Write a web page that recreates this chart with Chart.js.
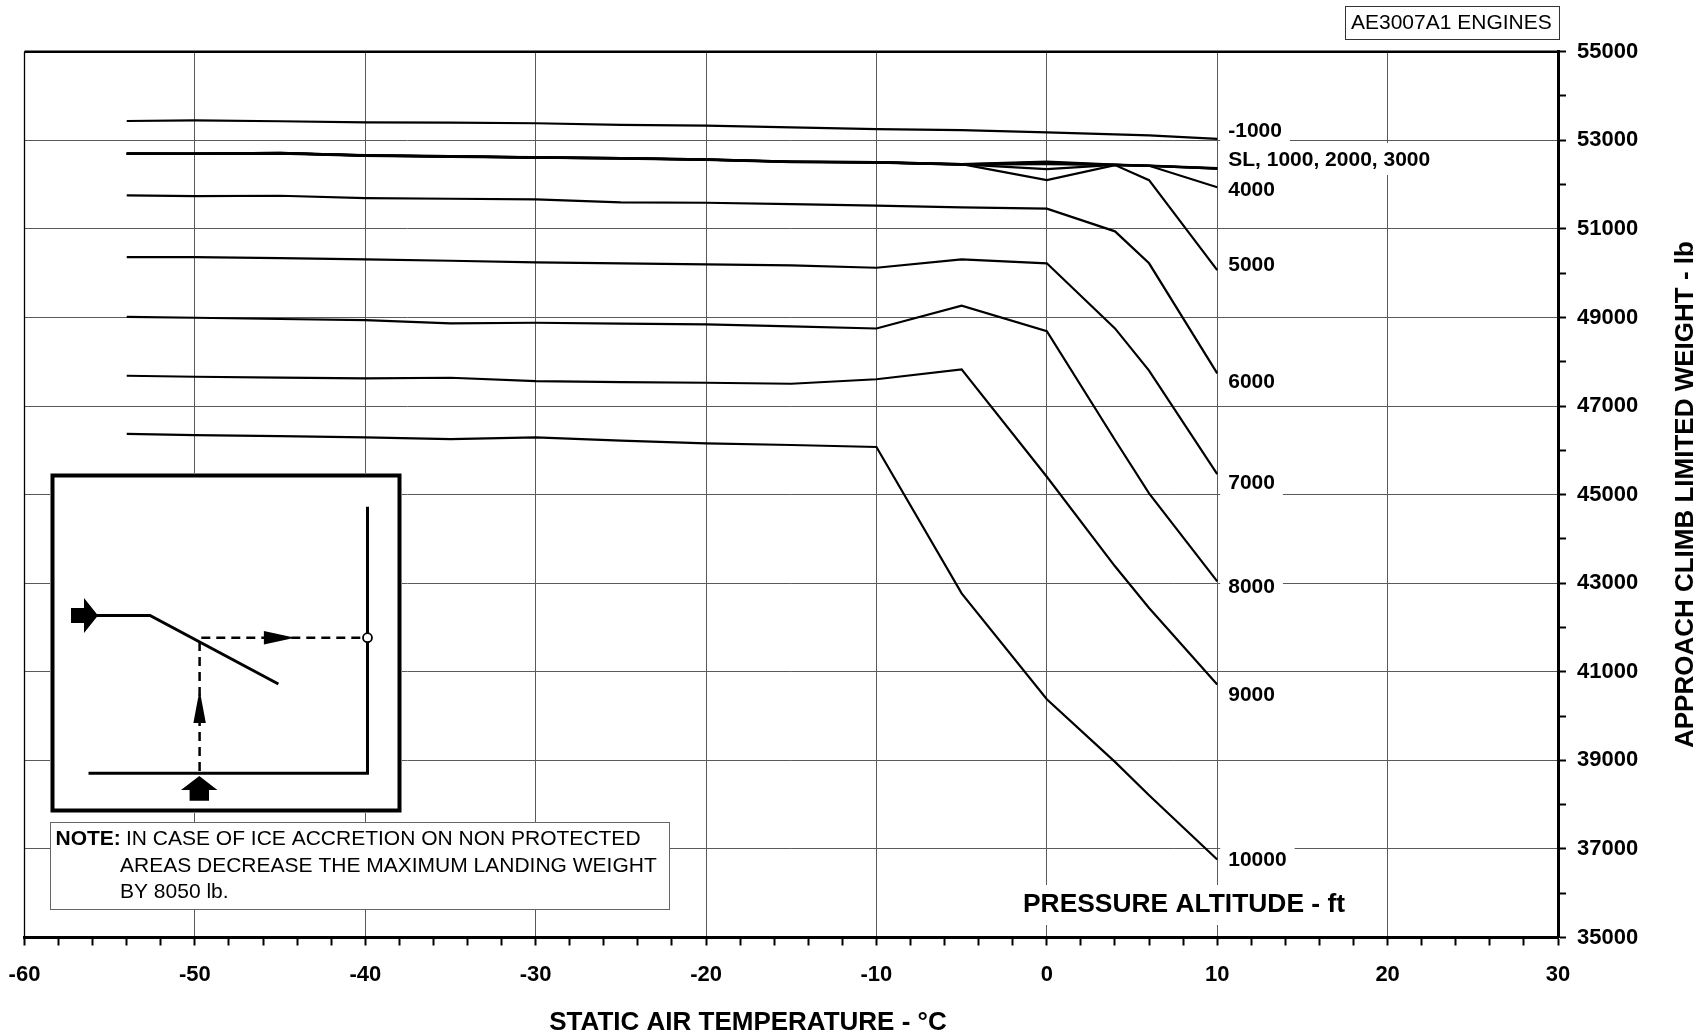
<!DOCTYPE html>
<html><head><meta charset="utf-8">
<script src="https://cdn.jsdelivr.net/npm/chart.js@4/dist/chart.umd.min.js"></script>
<style>html,body{margin:0;padding:0;background:#fff;}#wrap{width:1702px;height:1032px;position:relative;}</style>
</head><body><div id="wrap"><canvas id="c" width="1702" height="1032"></canvas></div>
<script>
// Static air temperature (°C) breakpoints
const temps = [-54,-50,-45,-40,-35,-30,-25,-20,-15,-10,-5,0,4,6,10];
// Approach climb limited weight (lb) per pressure altitude (ft)
const altM1000 = [53435,53450,53430,53405,53400,53385,53350,53330,53290,53250,53230,53180,53135,53110,53030];
const alt0     = [52700,52700,52715,52660,52640,52615,52600,52570,52520,52505,52460,52520,52450,52430,52370];
const alt1000  = [52690,52695,52710,52655,52635,52610,52590,52565,52515,52500,52455,52500,52445,52425,52365];
const alt2000  = [52705,52700,52705,52665,52630,52620,52595,52560,52510,52500,52450,52460,52445,52420,52360];
const alt3000  = [52695,52690,52700,52650,52625,52605,52585,52555,52505,52495,52450,52480,52440,52420,52360];
const alt4000  = [52700,52695,52710,52655,52635,52610,52590,52565,52515,52500,52455,52350,52445,52425,51940];
const alt5000  = [52700,52700,52715,52660,52640,52615,52600,52570,52520,52505,52460,52100,52440,52100,50070];
const alt6000  = [51757,51741,51748,51696,51680,51666,51599,51590,51560,51525,51486,51455,50944,50222,47737];
const alt7000  = [50364,50364,50340,50312,50280,50244,50220,50199,50176,50122,50312,50222,48753,47800,45460];
const alt8000  = [49015,48993,48965,48941,48866,48880,48860,48844,48800,48750,49264,48690,46232,45028,43042];
const alt9000  = [47683,47661,47640,47624,47638,47563,47540,47525,47503,47605,47828,45402,43381,42441,40710];
const alt10000 = [46373,46344,46320,46292,46254,46292,46220,46156,46120,46075,42769,40380,38966,38213,36762];
const seriesNames = ['-1000','SL','1000','2000','3000','4000','5000','6000','7000','8000','9000','10000'];
const seriesValues = [altM1000,alt0,alt1000,alt2000,alt3000,alt4000,alt5000,alt6000,alt7000,alt8000,alt9000,alt10000];
// Curve labels and the weight they are centred on
const curveLabels = ['-1000','SL, 1000, 2000, 3000','4000','5000','6000','7000','8000','9000','10000'];
const curveLabelW = [53238,52577,51899,50206,47564,45283,42922,40495,36769];
const xTickLabels = [-60,-50,-40,-30,-20,-10,0,10,20,30];
const yTickLabels = [35000,37000,39000,41000,43000,45000,47000,49000,51000,53000,55000];

const F = '"Liberation Sans", Arial, Helvetica, sans-serif';

const overlay = {
  id: 'overlay',
  beforeDatasetsDraw(chart) {
    const {ctx, scales: {x, y}} = chart;
    ctx.save();
    ctx.textBaseline = 'middle';
    // curve labels with white backing
    ctx.font = 'bold 21px ' + F;
    curveLabels.forEach((t, i) => {
      const px = x.getPixelForValue(10) + 11;
      const py = y.getPixelForValue(curveLabelW[i]);
      const w = ctx.measureText(t).width;
      ctx.fillStyle = '#fff';
      const h = i === 1 ? 16 : 15;
      ctx.fillRect(px - 8, py - h, w + 16, 2 * h);
      ctx.fillStyle = '#000';
      ctx.fillText(t, px, py + 1);
    });
    // PRESSURE ALTITUDE label
    ctx.font = 'bold 26.4px ' + F;
    {
      const t = 'PRESSURE ALTITUDE - ft';
      const w = ctx.measureText(t).width;
      const px = 1023, py = 905;
      ctx.fillStyle = '#fff';
      ctx.fillRect(px - 9, 885, w + 16, 40);
      ctx.fillStyle = '#000';
      ctx.fillText(t, px, py);
    }
    // engine box
    ctx.font = '21px ' + F;
    ctx.fillStyle = '#fff';
    ctx.fillRect(1345.5, 6.5, 214, 33);
    ctx.strokeStyle = '#333'; ctx.lineWidth = 1;
    ctx.strokeRect(1345.5, 6.5, 214, 33);
    ctx.fillStyle = '#000';
    ctx.fillText('AE3007A1 ENGINES', 1351, 23.5);

    // inset example diagram
    ctx.fillStyle = '#fff';
    ctx.fillRect(50, 473, 352, 340);
    ctx.strokeStyle = '#000'; ctx.lineWidth = 4;
    ctx.strokeRect(52.5, 475.5, 347, 335);
    ctx.lineWidth = 3; ctx.lineCap = 'butt';
    ctx.beginPath();
    ctx.moveTo(367.5, 506.7); ctx.lineTo(367.5, 774.8);
    ctx.moveTo(88.5, 773.3); ctx.lineTo(369, 773.3);
    ctx.stroke();
    ctx.beginPath();
    ctx.moveTo(97, 615.5); ctx.lineTo(150, 615.5); ctx.lineTo(278.4, 684);
    ctx.stroke();
    ctx.fillStyle = '#000';
    // left block arrow
    ctx.beginPath();
    ctx.moveTo(71, 608); ctx.lineTo(84, 608); ctx.lineTo(84, 598); ctx.lineTo(98, 615.5);
    ctx.lineTo(84, 633); ctx.lineTo(84, 623); ctx.lineTo(71, 623); ctx.closePath(); ctx.fill();
    // bottom block arrow
    ctx.beginPath();
    ctx.moveTo(181, 790); ctx.lineTo(199.3, 776); ctx.lineTo(217.4, 790); ctx.lineTo(209, 790);
    ctx.lineTo(209, 800.7); ctx.lineTo(189.6, 800.7); ctx.lineTo(189.6, 790); ctx.closePath(); ctx.fill();
    // dashed guides
    ctx.setLineDash([9, 6]); ctx.lineWidth = 2.5;
    ctx.beginPath();
    ctx.moveTo(199.6, 771); ctx.lineTo(199.6, 637.7); ctx.lineTo(362, 637.7);
    ctx.stroke();
    ctx.setLineDash([]);
    ctx.beginPath();
    ctx.moveTo(199.6, 690); ctx.lineTo(193.4, 723); ctx.lineTo(205.8, 723); ctx.closePath(); ctx.fill();
    ctx.beginPath();
    ctx.moveTo(295, 637.7); ctx.lineTo(263.9, 631); ctx.lineTo(263.9, 644.4); ctx.closePath(); ctx.fill();
    ctx.beginPath();
    ctx.arc(367.5, 637.7, 4.5, 0, Math.PI * 2);
    ctx.fillStyle = '#fff'; ctx.fill();
    ctx.lineWidth = 1.8; ctx.strokeStyle = '#000'; ctx.stroke();

    // note box
    ctx.fillStyle = '#fff';
    ctx.fillRect(50.5, 822.5, 619, 87);
    ctx.strokeStyle = '#666'; ctx.lineWidth = 1;
    ctx.strokeRect(50.5, 822.5, 619, 87);
    ctx.fillStyle = '#000';
    ctx.font = 'bold 21px ' + F;
    ctx.fillText('NOTE:', 55.5, 839);
    ctx.font = '21px ' + F;
    ctx.fillText('IN CASE OF ICE ACCRETION ON NON PROTECTED', 126, 839);
    ctx.fillText('AREAS DECREASE THE MAXIMUM LANDING WEIGHT', 120, 866);
    ctx.fillText('BY 8050 lb.', 120, 892.5);
    ctx.restore();
  },
  afterDraw(chart) {
    const {ctx, chartArea: a} = chart;
    ctx.save();
    ctx.strokeStyle = '#000';
    ctx.lineWidth = 2.5;
    ctx.beginPath(); ctx.moveTo(a.left, a.top); ctx.lineTo(a.right + 1.5, a.top); ctx.stroke();
    ctx.lineWidth = 1.3;
    ctx.beginPath(); ctx.moveTo(a.left, a.top); ctx.lineTo(a.left, a.bottom); ctx.stroke();
    ctx.fillStyle = '#000';
    ctx.font = 'bold 26px ' + F;
    ctx.textAlign = 'center'; ctx.textBaseline = 'middle';
    ctx.fillText('STATIC AIR TEMPERATURE - °C', 748, 1023);
    ctx.translate(1686, 494.6);
    ctx.rotate(-Math.PI / 2);
    ctx.fillText('APPROACH CLIMB LIMITED WEIGHT - lb', 0, 0);
    ctx.restore();
  }
};

const datasets = seriesValues.map((vals, i) => ({
  label: seriesNames[i],
  data: temps.map((t, j) => ({x: t, y: vals[j]})),
  borderColor: '#000',
  borderWidth: 2.2,
  pointRadius: 0,
  tension: 0,
  fill: false
}));

new Chart(document.getElementById('c'), {
  type: 'line',
  data: {datasets},
  options: {
    responsive: false,
    animation: false,
    events: [],
    layout: {padding: {left: 24.5, top: 51.7, right: 0, bottom: 0}},
    plugins: {legend: {display: false}, tooltip: {enabled: false}, title: {display: false}},
    scales: {
      x: {
        type: 'linear', position: 'bottom', min: -60, max: 30,
        afterFit(s) { s.height = 94.5; s.paddingLeft = 0; s.paddingRight = 0; },
        ticks: {
          stepSize: 2, autoSkip: false, maxRotation: 0, padding: 16,
          color: '#000', font: {family: F, size: 22, weight: 'bold'},
          callback: v => xTickLabels.includes(Math.round(v)) ? String(Math.round(v)) : ''
        },
        grid: {
          color: c => (c.tick && xTickLabels.includes(Math.round(c.tick.value))) ? '#5a5a5a' : 'rgba(0,0,0,0)',
          tickColor: '#000', tickLength: 8, lineWidth: 1, tickWidth: 2
        },
        border: {display: true, color: '#000', width: 3}
      },
      y: {
        type: 'linear', position: 'right', min: 35000, max: 55000,
        afterFit(s) { s.width = 144; s.paddingTop = 0; s.paddingBottom = 0; },
        ticks: {
          stepSize: 1000, autoSkip: false, padding: 11,
          color: '#000', font: {family: F, size: 22, weight: 'bold'},
          callback: v => yTickLabels.includes(Math.round(v)) ? String(Math.round(v)) : ''
        },
        grid: {
          color: c => (c.tick && yTickLabels.includes(Math.round(c.tick.value))) ? '#5a5a5a' : 'rgba(0,0,0,0)',
          tickColor: '#000', tickLength: 8, lineWidth: 1, tickWidth: 2
        },
        border: {display: true, color: '#000', width: 3}
      }
    }
  },
  plugins: [overlay]
});
</script></body></html>
